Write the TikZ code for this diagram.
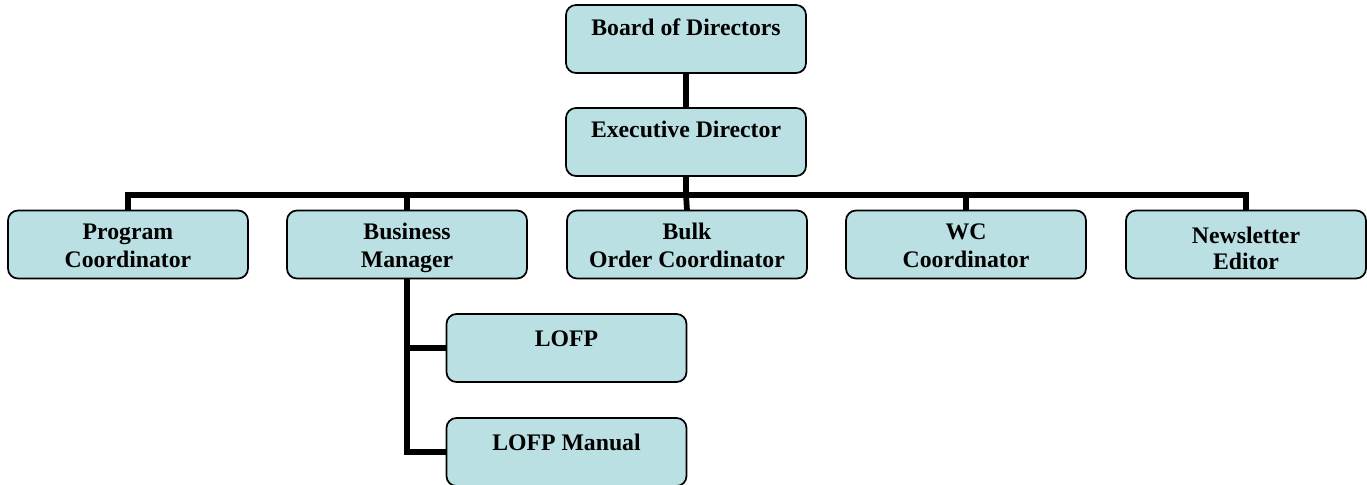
\documentclass[tikz,border=0pt]{standalone}
\usepackage{fontspec}
\setmainfont{Liberation Serif}
\definecolor{boxfill}{RGB}{186,224,227}
\newcommand{\boxtext}[2][23pt]{\parbox[t][51pt][t]{180pt}{\centering\rule{0pt}{#1}#2}}
\begin{document}
\begin{tikzpicture}[x=0.75pt,y=-0.75pt,
  orgbox/.style={draw=black,line width=1.3pt,fill=boxfill,rounded corners=7.5pt,
    inner sep=0pt,outer sep=0pt,font=\fontsize{17.8pt}{21pt}\selectfont\bfseries},
  conn/.style={line width=4.3pt,draw=black}]
\useasboundingbox (0,0) rectangle (1367,485);
\node[orgbox] (board) at (686,39) {\boxtext{Board of Directors}};
\node[orgbox] (exec) at (686,142) {\boxtext[22pt]{Executive Director}};
\node[orgbox] (prog) at (128,244.5) {\boxtext[22pt]{Program\\Coordinator}};
\node[orgbox] (biz) at (407,244.5) {\boxtext[22pt]{Business\\Manager}};
\node[orgbox] (bulk) at (687,244.5) {\boxtext[22pt]{Bulk\\Order Coordinator}};
\node[orgbox] (wc) at (966,244.5) {\boxtext[22pt]{WC\\Coordinator}};
\node[orgbox] (news) at (1246,244.5) {\parbox[t][51pt][t]{180pt}{\centering\fontsize{17.8pt}{19pt}\selectfont\rule{0pt}{25pt}Newsletter\\Editor}};
\node[orgbox] (lofp) at (566.5,348) {\boxtext[24pt]{LOFP}};
\node[orgbox] (manual) at (566.5,452) {\boxtext[24pt]{LOFP Manual}};
\coordinate (bus) at (686,195);
\draw[conn] (board) -- (exec);
\draw[conn] (exec.south) -- (bus);
\draw[conn] (bus) -| (prog.north);
\draw[conn] (bus) -| (biz.north);
\draw[conn] (bus) -- (bulk.north);
\draw[conn] (bus) -| (wc.north);
\draw[conn] (bus) -| (news.north);
\draw[conn] (biz.south) |- (lofp.west);
\draw[conn] (biz.south) |- (manual.west);
\end{tikzpicture}
\end{document}
